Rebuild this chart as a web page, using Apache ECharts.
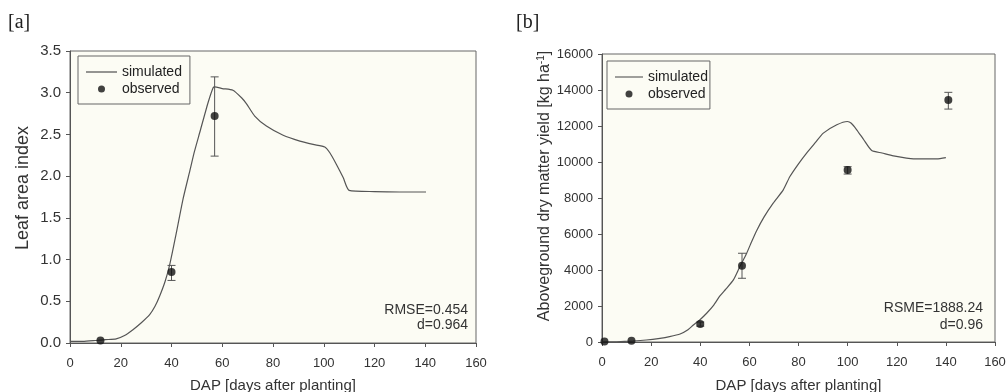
<!DOCTYPE html>
<html>
<head>
<meta charset="utf-8">
<script src="https://cdn.jsdelivr.net/npm/echarts@6/dist/echarts.min.js"></script>
<style>
  html, body { margin: 0; padding: 0; background: #fff; }
  #chart { width: 1007px; height: 392px; }
</style>
</head>
<body>
<div id="chart"></div>
<script>
// [a] leaf area index: simulated curve, observed means, error bars [day, low, high]
const simLai = [
  [0, 0.02], [5, 0.02], [10, 0.03], [14, 0.04], [18.2, 0.05], [21.5, 0.09], [24.8, 0.16],
  [28, 0.24], [31.4, 0.34], [33.5, 0.44], [35.3, 0.56], [37.5, 0.74], [39.3, 0.94],
  [41.9, 1.32], [44.5, 1.72], [47.2, 2.06], [49, 2.29], [51.1, 2.52],
  [54.4, 2.88], [56.4, 3.06], [57, 3.07], [60, 3.05], [64.2, 3.03], [67.6, 2.94],
  [69.5, 2.87], [72.8, 2.72], [77.4, 2.6], [84, 2.49], [90.6, 2.42], [95.8, 2.38],
  [100.4, 2.35], [102.4, 2.28], [105, 2.14], [107.7, 1.98], [110, 1.83], [120, 1.815],
  [130, 1.81], [140.3, 1.81]
];
const obsLai = [[12, 0.03], [40, 0.85], [57, 2.72]];
const errLai = [[40, 0.75, 0.93], [57, 2.24, 3.19]];

// [b] aboveground dry matter yield (kg/ha)
const simYield = [
  [0, 0], [6, 15], [12.6, 55], [18, 110], [23.6, 206], [27.5, 300], [31.8, 445],
  [35, 680], [37.2, 945], [40, 1250], [42.6, 1596], [45.5, 2050], [48, 2558],
  [50.5, 2950], [53.5, 3448], [56, 4150], [58.9, 4932], [61, 5600], [63, 6200],
  [66, 6950], [69.7, 7713], [73.8, 8453], [76.5, 9192], [80, 9900], [83.3, 10493],
  [87, 11100], [90.1, 11605], [95.6, 12067], [99.9, 12250], [101.5, 12150],
  [103.7, 11789], [106.5, 11250], [109.8, 10637], [114, 10500], [118.6, 10342],
  [126.8, 10175], [136.3, 10175], [140, 10247]
];
const obsYield = [[1, 30], [12, 70], [40, 1000], [57, 4240], [100, 9560], [141, 13440]];
const errYield = [[40, 880, 1110], [57, 3540, 4930], [100, 9330, 9740], [141, 12940, 13870]];

const xTicks = { min: 0, max: 160, interval: 20 };
const font = 'Liberation Sans, Arial, sans-serif';
const axisCol = '#555';
const plotBg = '#fcfcf4';
const lineIcon = 'path://M0,0H30V1.2H0Z';

function errorBars(params, api) {
  const x = api.value(0);
  const lo = api.coord([x, api.value(1)]);
  const hi = api.coord([x, api.value(2)]);
  const w = 4;
  const st = { stroke: '#555', lineWidth: 1 };
  return {
    type: 'group',
    children: [
      { type: 'line', shape: { x1: lo[0], y1: lo[1], x2: hi[0], y2: hi[1] }, style: st },
      { type: 'line', shape: { x1: hi[0] - w, y1: hi[1], x2: hi[0] + w, y2: hi[1] }, style: st },
      { type: 'line', shape: { x1: lo[0] - w, y1: lo[1], x2: lo[0] + w, y2: lo[1] }, style: st }
    ]
  };
}

function xAxis(idx, gap) {
  return {
    gridIndex: idx, type: 'value', min: xTicks.min, max: xTicks.max, interval: xTicks.interval,
    name: 'DAP [days after planting]', nameLocation: 'middle', nameGap: gap,
    nameTextStyle: { fontFamily: font, fontSize: 15, color: '#333' },
    axisLine: { lineStyle: { color: axisCol } },
    axisTick: { inside: false, length: 4, lineStyle: { color: axisCol } },
    axisLabel: { margin: 14, fontFamily: font, fontSize: 13, color: '#333' },
    splitLine: { show: false }
  };
}

function legend(left, top, iw, pad) {
  return {
    orient: 'vertical', left: left, top: top, padding: pad, itemGap: 3,
    itemWidth: iw, itemHeight: 7, borderColor: '#666', borderWidth: 1,
    textStyle: { fontFamily: font, fontSize: 14, color: '#222' },
    data: [{ name: 'simulated', icon: lineIcon }, { name: 'observed', icon: 'circle' }],
    selectedMode: false
  };
}

const serifTitle = { fontFamily: 'Liberation Serif, serif', fontSize: 20, fontWeight: 'normal', color: '#222' };

const chart = echarts.init(document.getElementById('chart'));
chart.setOption({
  animation: false,
  title: [
    { text: '[a]', left: 8, top: 13, padding: 0, textStyle: serifTitle },
    { text: '[b]', left: 516, top: 13, padding: 0, textStyle: serifTitle }
  ],
  grid: [
    { left: 70, top: 51, right: 531, bottom: 49, show: true, backgroundColor: plotBg,
      borderColor: '#666', borderWidth: 1, containLabel: false, outerBoundsMode: 'none' },
    { left: 602, top: 54, right: 12, bottom: 50, show: true, backgroundColor: plotBg,
      borderColor: '#666', borderWidth: 1, containLabel: false, outerBoundsMode: 'none' }
  ],
  legend: [legend(78, 56, 31, [9, 8, 8, 8]), legend(607, 61, 28, [9, 2, 8, 8])],
  xAxis: [xAxis(0, 35), xAxis(1, 36)],
  yAxis: [
    { gridIndex: 0, type: 'value', min: 0, max: 3.5, interval: 0.5,
      name: 'Leaf area index', nameLocation: 'middle', nameGap: 38,
      nameTextStyle: { fontFamily: font, fontSize: 18, color: '#333', padding: [0, 0, 0, 18] },
      axisLine: { show: true, lineStyle: { color: axisCol } },
      axisTick: { show: true, length: 4, lineStyle: { color: axisCol } },
      axisLabel: { margin: 9, fontFamily: font, fontSize: 15, color: '#333',
        formatter: v => v.toFixed(1) },
      splitLine: { show: false } },
    { gridIndex: 1, type: 'value', min: 0, max: 16000, interval: 2000,
      name: '{t|Aboveground dry matter yield [kg ha}{s|-1}{t|]}', nameLocation: 'middle', nameGap: 49,
      nameTextStyle: { padding: [0, 0, 0, 24], rich: {
        t: { fontFamily: font, fontSize: 16, color: '#333' },
        s: { fontFamily: font, fontSize: 10, color: '#333', verticalAlign: 'top', padding: [0, 0, 7, 0] }
      } },
      axisLine: { show: true, lineStyle: { color: axisCol } },
      axisTick: { show: true, length: 4, lineStyle: { color: axisCol } },
      axisLabel: { margin: 9, fontFamily: font, fontSize: 13, color: '#333',
        formatter: v => String(v) },
      splitLine: { show: false } }
  ],
  series: [
    { name: 'simulated', type: 'line', xAxisIndex: 0, yAxisIndex: 0, data: simLai,
      symbol: 'none', smooth: 0.2, lineStyle: { color: '#555', width: 1.2 }, itemStyle: { color: '#555' }, z: 2 },
    { name: 'err-a', type: 'custom', xAxisIndex: 0, yAxisIndex: 0, data: errLai,
      renderItem: errorBars, encode: { x: 0, y: [1, 2] }, z: 3 },
    { name: 'observed', type: 'scatter', xAxisIndex: 0, yAxisIndex: 0, data: obsLai,
      symbol: 'circle', symbolSize: 8, itemStyle: { color: '#111' }, z: 4 },
    { name: 'simulated', type: 'line', xAxisIndex: 1, yAxisIndex: 1, data: simYield,
      symbol: 'none', smooth: 0.2, lineStyle: { color: '#555', width: 1.2 }, itemStyle: { color: '#555' }, z: 2 },
    { name: 'err-b', type: 'custom', xAxisIndex: 1, yAxisIndex: 1, data: errYield,
      renderItem: errorBars, encode: { x: 0, y: [1, 2] }, z: 3 },
    { name: 'observed', type: 'scatter', xAxisIndex: 1, yAxisIndex: 1, data: obsYield,
      symbol: 'circle', symbolSize: 8, itemStyle: { color: '#111' }, z: 4 }
  ],
  graphic: [
    { type: 'text', x: 468, y: 303, z: 10,
      style: { text: 'RMSE=0.454\nd=0.964', align: 'right', verticalAlign: 'top',
        font: '14px ' + font, lineHeight: 15, fill: '#333' } },
    { type: 'text', x: 983, y: 300, z: 10,
      style: { text: 'RSME=1888.24\nd=0.96', align: 'right', verticalAlign: 'top',
        font: '14px ' + font, lineHeight: 16.5, fill: '#333' } }
  ]
});
</script>
</body>
</html>
